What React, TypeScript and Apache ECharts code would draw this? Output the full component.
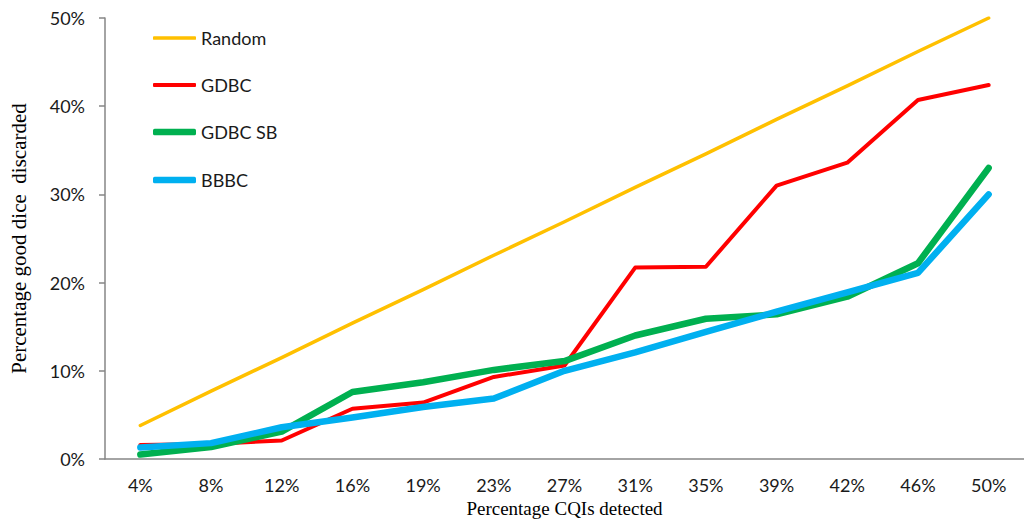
import React, { useEffect, useRef } from "react";
import * as echarts from "echarts";

const categories = ["4%", "8%", "12%", "16%", "19%", "23%", "27%", "31%", "35%", "39%", "42%", "46%", "50%"];
const randomValues = [3.8, 7.7, 11.5, 15.4, 19.2, 23.1, 26.9, 30.8, 34.6, 38.5, 42.3, 46.2, 50.0];
const gdbcValues = [1.6, 1.7, 2.1, 5.7, 6.4, 9.3, 10.6, 21.7, 21.8, 31.0, 33.6, 40.7, 42.4];
const gdbcSbValues = [0.5, 1.35, 3.1, 7.6, 8.7, 10.1, 11.1, 14.0, 15.9, 16.4, 18.4, 22.2, 33.0];
const bbbcValues = [1.3, 1.8, 3.6, 4.7, 5.9, 6.85, 10.0, 12.1, 14.4, 16.7, 18.9, 21.1, 30.0];

const seriesNames = ["Random", "GDBC", "GDBC SB", "BBBC"];
const seriesColors = ["#FFC000", "#FF0000", "#00B050", "#00B0F0"];
const seriesWidths = [3.5, 4, 6.5, 6.5];
const seriesData = [randomValues, gdbcValues, gdbcSbValues, bbbcValues];
const legendTops = [29, 76, 123, 171];

const xTitle = "Percentage CQIs detected";
const yTitle = "Percentage good dice  discarded";

export default function App() {
  const ref = useRef<HTMLDivElement>(null);
  useEffect(() => {
    if (!ref.current) return;
    const chart = echarts.init(ref.current, undefined, { renderer: "svg" });
    const sansFont = "Lato";
    const serifFont = "Liberation Serif";
    chart.setOption({
      animation: false,
      backgroundColor: "#ffffff",
      grid: { left: 103, top: 18, width: 924, height: 441, containLabel: false },
      legend: seriesNames.map((name, i) => ({
        show: true,
        data: [name],
        left: 153,
        top: legendTops[i],
        padding: 0,
        itemWidth: 43,
        itemHeight: seriesWidths[i],
        icon: "roundRect",
        itemStyle: { borderWidth: 0 },
        textStyle: { fontFamily: sansFont, fontSize: 18, color: "#1a1a1a" },
        selectedMode: false,
      })),
      xAxis: {
        type: "category",
        data: categories,
        boundaryGap: true,
        name: xTitle,
        nameLocation: "middle",
        nameGap: 34,
        nameTextStyle: { fontFamily: serifFont, fontSize: 19, color: "#000" },
        axisLine: { show: true, lineStyle: { color: "#868686", width: 1.5 } },
        axisTick: { show: false },
        axisLabel: { margin: 17, fontFamily: sansFont, fontSize: 18, color: "#1a1a1a" },
        splitLine: { show: false },
      },
      yAxis: {
        type: "value",
        min: 0,
        max: 50,
        interval: 10,
        name: yTitle,
        nameLocation: "middle",
        nameGap: 76,
        nameTextStyle: { fontFamily: serifFont, fontSize: 21, color: "#000" },
        axisLine: { show: true, lineStyle: { color: "#868686", width: 1.5 } },
        axisTick: { show: true, length: 6, lineStyle: { color: "#868686", width: 1.5 } },
        axisLabel: { margin: 20, fontFamily: sansFont, fontSize: 18, color: "#1a1a1a", formatter: "{value}%" },
        splitLine: { show: false },
      },
      series: seriesNames.map((name, i) => ({
        name,
        type: "line",
        data: seriesData[i],
        symbol: "none",
        showSymbol: false,
        color: seriesColors[i],
        lineStyle: { color: seriesColors[i], width: seriesWidths[i], cap: "round", join: "round" },
        emphasis: { disabled: true },
      })),
    });
    return () => chart.dispose();
  }, []);
  return (
    <div
      ref={ref}
      style={{ position: "fixed", left: 0, top: 0, width: 1024, height: 526, background: "#fff" }}
    />
  );
}
